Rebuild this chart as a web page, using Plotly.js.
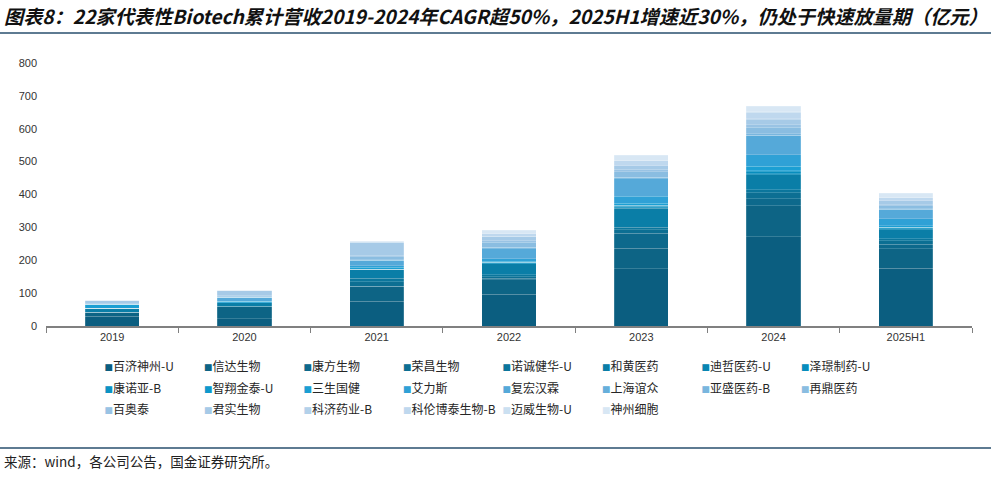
<!DOCTYPE html>
<html>
<head>
<meta charset="utf-8">
<script src="https://cdn.plot.ly/plotly-3.0.1.min.js"></script>
<style>html,body{margin:0;padding:0;background:#fff;}#chart{width:991px;height:477px;}</style>
</head>
<body>
<div id="chart"></div>
<script>
const years = ['2019', '2020', '2021', '2022', '2023', '2024', '2025H1'];
const companies = ['百济神州-U', '信达生物', '康方生物', '荣昌生物', '诺诚健华-U', '和黄医药', '迪哲医药-U', '泽璟制药-U',
  '康诺亚-B', '智翔金泰-U', '三生国健', '艾力斯', '复宏汉霖', '上海谊众', '亚盛医药-B', '再鼎医药',
  '百奥泰', '君实生物', '科济药业-B', '科伦博泰生物-B', '迈威生物-U', '神州细胞'];
const colors = ['#0b5e80', '#0d6485', '#0d698c', '#0c6f93', '#0b769c', '#0a7ea7', '#0886b2', '#078dbd',
  '#0b93c4', '#0e99cc', '#1b9fd3', '#2fa1d6', '#55a9d9', '#66afdb', '#79b6de', '#8abde1',
  '#99c3e4', '#a6cae7', '#b3d1ea', '#bfd8ee', '#cbe0f1', '#d8e7f4'];

// 营收（亿元）：2019, 2020, 2021, 2022, 2023, 2024, 2025H1
const beigene    = [30, 22, 76, 96, 174.2, 272.1, 175.2];
const innovent   = [10.5, 36, 42.7, 44, 62.1, 94.2, 59.5];
const akeso      = [0.5, 0.5, 2.3, 5, 45.3, 21.2, 14.1];
const remegen    = [0.5, 0.2, 14.3, 5, 10.8, 17.1, 10];
const innocare   = [0, 1.3, 10.4, 6.3, 7.4, 10.1, 7.3];
const hutchmed   = [13, 11, 25, 33, 59, 45, 26];
const dizal      = [0, 0, 0, 0, 0.9, 3.6, 3.6];
const zelgen     = [0, 0.3, 1.9, 3, 3.9, 5.3, 3.8];
const keymed     = [0, 0, 0.6, 1.1, 3.5, 4.3, 0.5];
const genrix     = [0, 0, 0, 0, 0, 0.1, 0.5];
const sunshine   = [11.5, 4, 5, 4, 7, 12.2, 4];
const allist     = [0, 0.5, 5.2, 7.9, 20.2, 35.6, 21.1];
const henlius    = [0.9, 12, 17, 30, 53.9, 57.2, 28.2];
const yizhong    = [0, 0, 0.1, 2.6, 2.4, 2, 1];
const ascentage  = [0.1, 0, 0.3, 2.1, 2.2, 5, 2.3];
const zailab     = [0.9, 3.4, 9.3, 14.5, 17, 20, 8];
const biothera   = [0.1, 1.8, 4.4, 4.4, 7, 7.4, 3.8];
const junshi     = [11, 16, 40, 14.5, 11, 17, 11.7];
const carsgen    = [0, 0, 0, 0, 0.2, 0.5, 0.5];
const kelunbio   = [0, 0, 3, 8, 15.4, 19.3, 9.5];
const mabwell    = [0, 0, 0.1, 0.3, 1.3, 2, 1];
const sinocell   = [0, 0, 0.2, 10.2, 15, 18, 12];

const seriesList = [beigene, innovent, akeso, remegen, innocare, hutchmed, dizal, zelgen,
  keymed, genrix, sunshine, allist, henlius, yizhong, ascentage, zailab,
  biothera, junshi, carsgen, kelunbio, mabwell, sinocell];

const legendIds = ['legend', 'legend2', 'legend3'];
const perRow = 8;
const traces = [];
companies.forEach((name, i) => {
  traces.push({
    type: 'bar', name: name, x: years, y: seriesList[i],
    marker: {color: colors[i], line: {color: 'rgba(255,255,255,0.28)', width: 0.6}},
    width: 0.41, showlegend: false, legendgroup: name,
    hovertemplate: name + ' %{x}: %{y}<extra></extra>'
  });
});
// legend entries: coloured square glyph sits right before the name, as in the source chart
companies.forEach((name, i) => {
  const lastInRow = (i % perRow === perRow - 1) || i === companies.length - 1;
  const t = {
    type: 'scatter', mode: 'markers', x: [null], y: [null],
    name: '<span style="color:' + colors[i] + ';font-size:8.5px">■</span>' + name,
    marker: {symbol: 'square', size: 1, color: 'rgba(0,0,0,0)', opacity: 0},
    legend: legendIds[Math.floor(i / perRow)], legendgroup: name, hoverinfo: 'skip'
  };
  if (lastInRow) t.legendwidth = 100;
  traces.push(t);
});

const W = 991, H = 477, L = 46, R = 19, T = 63, B = 151;
const pw = W - L - R, ph = H - T - B;
const px = x => (x - L) / pw;
const py = y => (H - B - y) / ph;

const legendBase = {
  orientation: 'h', xanchor: 'left', yanchor: 'middle', x: px(64.5),
  entrywidth: 54.5, entrywidthmode: 'pixels', itemwidth: 30,
  bgcolor: 'rgba(0,0,0,0)', borderwidth: 0,
  font: {family: 'Noto Sans CJK SC, Noto Sans, sans-serif', size: 12, color: '#262626'},
  traceorder: 'normal'
};

const layout = {
  width: W, height: H,
  margin: {l: L, r: R, t: T, b: B, pad: 0},
  paper_bgcolor: '#ffffff', plot_bgcolor: '#ffffff',
  barmode: 'stack',
  title: {
    text: '图表8：22家代表性Biotech累计营收2019-2024年CAGR超50%，2025H1增速近30%，仍处于快速放量期（亿元）',
    font: {family: 'Noto Sans CJK SC, sans-serif', size: 19.2, color: '#111111', weight: 'bold', style: 'italic'},
    xref: 'container', yref: 'container', x: 0.004, xanchor: 'left', y: 1 - 17 / H, yanchor: 'middle'
  },
  xaxis: {
    type: 'category', showgrid: false, zeroline: false,
    showline: true, linecolor: '#808080', linewidth: 2,
    ticks: 'outside', tickson: 'boundaries', ticklen: 5, tickcolor: '#808080', tickwidth: 1,
    tickfont: {family: 'Liberation Sans, Arial, sans-serif', size: 11, color: '#333333'}
  },
  yaxis: {
    range: [0, 800], dtick: 100, tick0: 0, showgrid: false, zeroline: false,
    showline: false, ticks: '', ticklabelstandoff: 8,
    tickfont: {family: 'Liberation Sans, Arial, sans-serif', size: 11, color: '#333333'}
  },
  legend: Object.assign({}, legendBase, {y: py(366)}),
  legend2: Object.assign({}, legendBase, {y: py(388)}),
  legend3: Object.assign({}, legendBase, {y: py(409)}),
  shapes: [
    {type: 'line', xref: 'paper', yref: 'paper', x0: px(0), x1: px(W), y0: py(33), y1: py(33),
     line: {color: '#284f6e', width: 1.5}},
    {type: 'line', xref: 'paper', yref: 'paper', x0: px(0), x1: px(W), y0: py(448), y1: py(448),
     line: {color: '#284f6e', width: 1.5}}
  ],
  annotations: [
    {text: '来源：wind，各公司公告，国金证券研究所。', xref: 'paper', yref: 'paper',
     x: px(2), y: py(461), xanchor: 'left', yanchor: 'middle', showarrow: false,
     font: {family: 'Noto Sans CJK SC, sans-serif', size: 13.5, color: '#222222'}}
  ]
};

Plotly.newPlot('chart', traces, layout, {displayModeBar: false, staticPlot: true});
</script>
</body>
</html>
